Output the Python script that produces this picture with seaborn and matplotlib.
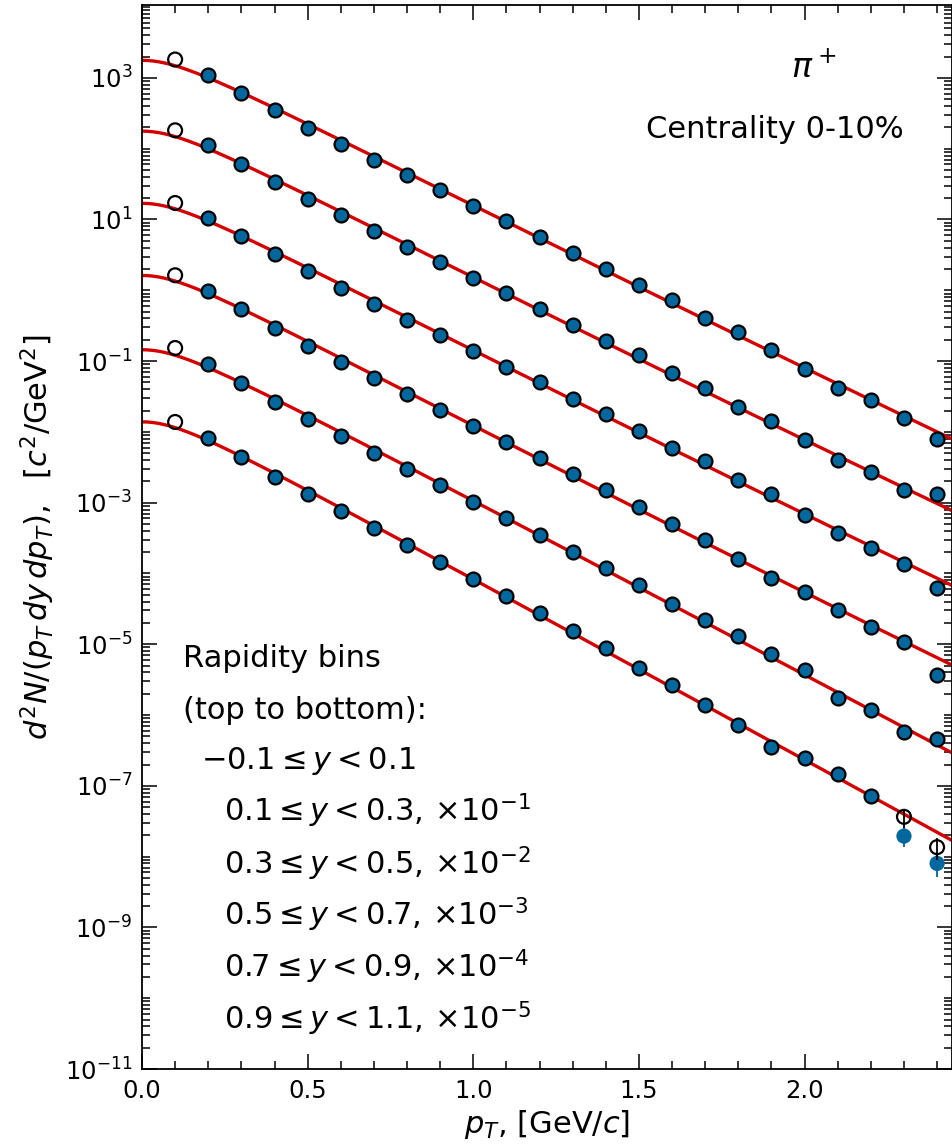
import numpy as np
import pandas as pd
import matplotlib
matplotlib.use("Agg")
import matplotlib.pyplot as plt
import seaborn as sns
from matplotlib.ticker import LogLocator, NullFormatter, FixedLocator

# ---------------- data (as plotted, already scaled by 10^-k) ----------------
pt = [0.1, 0.2, 0.3, 0.4, 0.5, 0.6, 0.7, 0.8, 0.9, 1.0, 1.1, 1.2,
      1.3, 1.4, 1.5, 1.6, 1.7, 1.8, 1.9, 2.0, 2.1, 2.2, 2.3, 2.4]

y_bin1 = [1820, 1117, 614, 347, 197, 116, 69.5, 42.3, 25.7, 15.6, 9.38, 5.57,
          3.34, 1.99, 1.19, 0.724, 0.407, 0.256, 0.144, 0.0769, 0.0418, 0.0283, 0.0156, 0.00782]
y_bin2 = [182, 112, 61.0, 33.6, 19.2, 11.4, 6.84, 4.06, 2.52, 1.50, 0.901, 0.536,
          0.321, 0.191, 0.120, 0.0668, 0.0410, 0.0225, 0.0142, 0.00771, 0.00398, 0.00267, 0.00153, 0.00133]
y_bin3 = [17.1, 10.5, 5.81, 3.21, 1.86, 1.08, 0.643, 0.385, 0.232, 0.141, 0.0828, 0.0504,
          0.0296, 0.0176, 0.0103, 0.00589, 0.00385, 0.00206, 0.00131, 6.59e-4, 3.74e-4, 2.30e-4, 1.37e-4, 6.14e-5]
y_bin4 = [1.63, 0.993, 0.546, 0.296, 0.166, 0.0975, 0.0573, 0.0344, 0.0205, 0.0120, 0.00716, 0.00430,
          0.00255, 0.00150, 8.73e-4, 5.02e-4, 2.95e-4, 1.58e-4, 8.59e-5, 5.50e-5, 3.06e-5, 1.76e-5, 1.07e-5, 3.62e-6]
y_bin5 = [0.153, 0.0895, 0.0488, 0.0265, 0.0150, 0.00869, 0.00505, 0.00300, 0.00177, 0.00102, 6.10e-4, 3.51e-4,
          2.02e-4, 1.18e-4, 6.90e-5, 3.65e-5, 2.21e-5, 1.29e-5, 7.18e-6, 4.31e-6, 1.73e-6, 1.18e-6, 5.68e-7, 4.52e-7]
y_bin6 = [0.0138, 0.00822, 0.00440, 0.00234, 0.00132, 7.52e-4, 4.32e-4, 2.49e-4, 1.46e-4, 8.40e-5, 4.78e-5, 2.79e-5,
          1.53e-5, 8.81e-6, 4.59e-6, 2.64e-6, 1.37e-6, 7.19e-7, 3.52e-7, 2.44e-7, 1.48e-7, 7.08e-8, 3.65e-8, 1.36e-8]

# uncorrected points of the last bin at the highest pT
bin6_raw_pt = [2.3, 2.4]
bin6_raw_y = [1.95e-8, 8.02e-9]
err_rel = [0.30, 0.35]

series = [y_bin1, y_bin2, y_bin3, y_bin4, y_bin5, y_bin6]

legend_lines = [
    "Rapidity bins",
    "(top to bottom):",
    r"$-0.1 \leq y < 0.1$",
    r"$0.1 \leq y < 0.3,\,{\times}10^{-1}$",
    r"$0.3 \leq y < 0.5,\,{\times}10^{-2}$",
    r"$0.5 \leq y < 0.7,\,{\times}10^{-3}$",
    r"$0.7 \leq y < 0.9,\,{\times}10^{-4}$",
    r"$0.9 \leq y < 1.1,\,{\times}10^{-5}$",
]

m_pi = 0.13957
x_max = 2.445

# ---------------- style ----------------
sns.set_style("ticks")
plt.rcParams["font.family"] = ["DejaVu Sans"]
plt.rcParams["mathtext.fontset"] = "dejavusans"
for key in ["text.color", "axes.labelcolor", "xtick.color", "ytick.color", "axes.edgecolor"]:
    plt.rcParams[key] = "black"

W, H = 953, 1144
fig = plt.figure(figsize=(W / 100, H / 100), dpi=100)
L, R, T, B = 142, 952, 5, 1069
ax = fig.add_axes([L / W, (H - B) / H, (R - L) / W, (B - T) / H])

blue = "#01679c"
red = "#d40000"

pt_arr = np.array(pt)
x_grid = np.linspace(0.0, x_max, 300)

rows = []
for k, ys in enumerate(series):
    ys = np.array(ys)
    # fit curve: quadratic in m_T on log scale, fitted to the data points
    mt = np.sqrt(pt_arr ** 2 + m_pi ** 2)
    sel = pt_arr <= 2.3
    c = np.polyfit(mt[sel], np.log10(ys[sel]), 2)
    mtg = np.sqrt(x_grid ** 2 + m_pi ** 2)
    fit = 10 ** np.polyval(c, mtg)
    sns.lineplot(x=x_grid, y=fit, ax=ax, color=red, lw=2.4, zorder=2)
    for i, (p, v) in enumerate(zip(pt, ys)):
        kind = "open" if (i == 0 or (k == 5 and p >= 2.3)) else "filled"
        rows.append(dict(pt=p, val=v, kind=kind, bin=k))

df = pd.DataFrame(rows)
filled = df[df.kind == "filled"]
opened = df[df.kind == "open"]

# raw points (blue, no edge) with error bars
ax.errorbar(bin6_raw_pt, bin6_raw_y,
            yerr=np.array(bin6_raw_y) * np.array(err_rel), fmt="none",
            ecolor=blue, elinewidth=1.3, zorder=3)
ax.scatter(bin6_raw_pt, bin6_raw_y, s=120, color=blue, edgecolor="none", zorder=3)

# open circle error bars for the last bin
o6 = opened[(opened.bin == 5) & (opened.pt >= 2.3)]
ax.errorbar(o6.pt, o6.val, yerr=o6.val.values * np.array(err_rel), fmt="none",
            ecolor="black", elinewidth=1.3, zorder=3)

sns.scatterplot(data=filled, x="pt", y="val", ax=ax, color=blue, edgecolor="black",
                linewidth=1.6, s=100, zorder=4, legend=False)
ax.scatter(opened.pt, opened.val, s=100, facecolor="none", edgecolor="black",
           linewidth=1.6, zorder=4)

# ---------------- axes ----------------
ax.set_yscale("log")
ax.set_xlim(0, x_max)
ax.set_ylim(1e-11, 10 ** 4.03)
ax.yaxis.set_major_locator(FixedLocator([10.0 ** e for e in range(-11, 4, 2)]))
ax.yaxis.set_minor_locator(LogLocator(base=10, subs=np.arange(1, 10), numticks=100))
ax.yaxis.set_minor_formatter(NullFormatter())
ax.set_xticks([0.0, 0.5, 1.0, 1.5, 2.0])
ax.xaxis.set_minor_locator(FixedLocator(np.arange(0.1, 2.45, 0.1)))
ax.set_xticklabels(["0.0", "0.5", "1.0", "1.5", "2.0"])

ax.tick_params(which="both", direction="in", top=True, right=True, width=1.1, colors="black")
ax.tick_params(which="major", length=10.5, labelsize=17.5, pad=7)
ax.tick_params(which="minor", length=5.5)
for s in ax.spines.values():
    s.set_linewidth(1.3)
    s.set_color("black")

ax.set_xlabel(r"$p_T$, [GeV/$c$]", fontsize=22, labelpad=4)
ax.set_ylabel(r"$d^2N/(p_T\,dy\,dp_T),\ \ [c^2/\mathrm{GeV}^2]$", fontsize=22, labelpad=6)

def axfrac(px, py):
    return (px - L) / (R - L), (B - py) / (B - T)

ax.text(*axfrac(791, 78), r"$\pi^+$", transform=ax.transAxes, fontsize=24, ha="left", va="baseline")
ax.text(*axfrac(646, 138), "Centrality 0-10%", transform=ax.transAxes, fontsize=22, ha="left", va="baseline")

baselines = [666.7, 719, 769, 821, 874, 925, 977.7, 1029]
lefts = [183, 183, 201, 224, 224, 224, 224, 224]
for txt, bx, by in zip(legend_lines, lefts, baselines):
    ax.text(*axfrac(bx, by), txt, transform=ax.transAxes, fontsize=22, ha="left", va="baseline")

fig.savefig("out.png", dpi=100)
